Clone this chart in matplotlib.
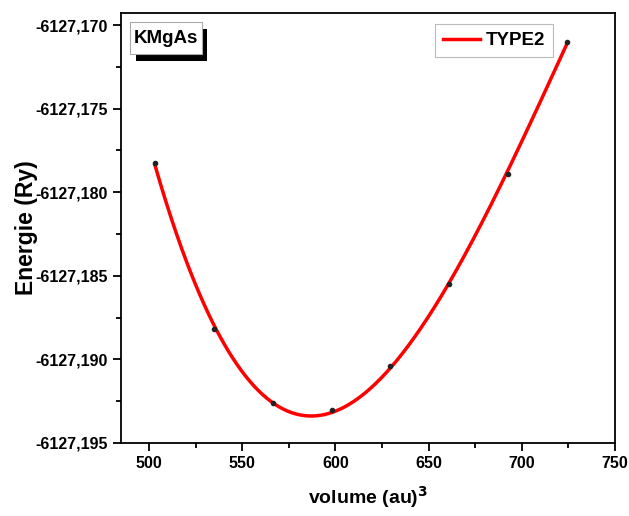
import matplotlib
matplotlib.use("Agg")
import matplotlib.pyplot as plt
from matplotlib.ticker import FuncFormatter, MultipleLocator
from matplotlib.patches import Rectangle
import numpy as np

plt.rcParams['font.family'] = ['Liberation Sans', 'DejaVu Sans']
plt.rcParams['font.weight'] = 'bold'

# volume (au)^3 and total energy (Ry)
volume = [503.2, 534.8, 566.5, 598.0, 629.3, 660.9, 692.5, 724.1]
energie = [-6127.17826, -6127.18816, -6127.19262, -6127.19304,
           -6127.19042, -6127.18547, -6127.17892, -6127.17104]
label = "TYPE2"
compound = "KMgAs"

fig = plt.figure(figsize=(6.29, 5.16), dpi=100)
ax = fig.add_axes([0.1924, 0.1415, 0.7853, 0.8333])

# smooth fit through the computed points (EOS-like fit)
v = np.array(volume)
e = np.array(energie)
e0 = e.mean()
coef = np.polyfit(v, e - e0, 3)
vf = np.linspace(v.min(), v.max(), 300)
ef = np.polyval(coef, vf) + e0

ax.plot(vf, ef, color='#ff0000', lw=2.5, label=label, zorder=2)
ax.plot(v, e, 'o', color='#222222', ms=3.0, zorder=3)

ax.set_xlim(485, 750)
ax.set_ylim(-6127.195, -6127.16928)
ax.xaxis.set_major_locator(MultipleLocator(50))
ax.xaxis.set_minor_locator(MultipleLocator(25))
ax.yaxis.set_major_locator(MultipleLocator(0.005))
ax.yaxis.set_minor_locator(MultipleLocator(0.0025))
ax.yaxis.set_major_formatter(FuncFormatter(lambda y, p: ("%.3f" % y).replace('.', ',')))

ax.tick_params(which='both', direction='out', width=1.3, labelsize=11.5)
ax.tick_params(which='major', length=6)
ax.tick_params(which='minor', length=3.5)
ax.tick_params(top=False, right=False)
for s in ax.spines.values():
    s.set_linewidth(1.3)
for lab in ax.get_xticklabels() + ax.get_yticklabels():
    lab.set_fontweight('bold')

ax.set_xlabel("volume (au)$^\\mathbf{3}$", fontsize=14, fontweight='bold', labelpad=9)
ax.set_ylabel("Energie (Ry)", fontsize=16.5, fontweight='bold', labelpad=-2)

leg = ax.legend(loc='upper right', bbox_to_anchor=(0.8745, 0.974), fontsize=13.5,
                frameon=True, fancybox=False, handlelength=2.0, handletextpad=0.3,
                borderpad=0.42, borderaxespad=0.0)
leg.get_frame().set_edgecolor('#aaaaaa')
leg.get_frame().set_linewidth(0.8)
for t in leg.get_texts():
    t.set_fontweight('bold')

# compound name box with its shadow
ax.add_patch(Rectangle((0.030, 0.888), 0.144, 0.075, transform=ax.transAxes,
                       facecolor='black', edgecolor='none', zorder=4))
ax.add_patch(Rectangle((0.0182, 0.9047), 0.1458, 0.0743, transform=ax.transAxes,
                       facecolor='white', edgecolor='#aaaaaa', lw=0.8, zorder=5))
ax.text(0.091, 0.9418, compound, transform=ax.transAxes, fontsize=13.5,
        fontweight='bold', va='center', ha='center', zorder=6)

fig.savefig("out.png", dpi=100)
